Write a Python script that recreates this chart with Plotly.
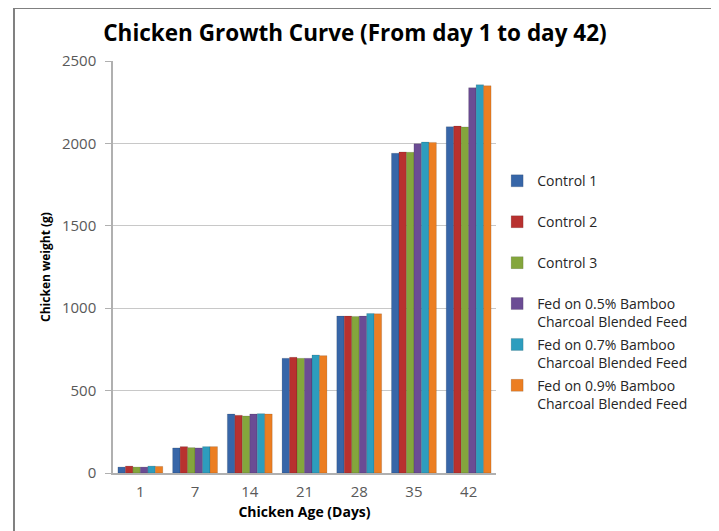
import plotly.graph_objects as go

days = ["1", "7", "14", "21", "28", "35", "42"]
series_names = [
    "Control 1",
    "Control 2",
    "Control 3",
    "Fed on 0.5% Bamboo<br>Charcoal Blended Feed",
    "Fed on 0.7% Bamboo<br>Charcoal Blended Feed",
    "Fed on 0.9% Bamboo<br>Charcoal Blended Feed",
]
control1 = [36, 152, 358, 696, 952, 1940, 2101]
control2 = [42, 160, 350, 702, 952, 1948, 2105]
control3 = [36, 154, 346, 696, 950, 1946, 2100]
fed05 = [36, 152, 358, 696, 952, 1998, 2338]
fed07 = [42, 160, 360, 716, 968, 2008, 2356]
fed09 = [40, 160, 358, 712, 966, 2006, 2350]
colors = ["#3766A8", "#B8312F", "#84A63C", "#6B4C94", "#2D9DBE", "#EC7E22"]

all_values = [control1, control2, control3, fed05, fed07, fed09]

fig = go.Figure()
for i, (name, vals, col) in enumerate(zip(series_names, all_values, colors)):
    label = name if "<br>" in name else name + "<br> "
    fig.add_trace(go.Bar(
        x=days, y=vals, name=label,
        marker=dict(color=col, line=dict(color="rgba(0,0,0,0.25)", width=0.5)),
        legendgroup=str(i),
    ))

font_fam = "Open Sans, Liberation Sans, sans-serif"
fig.update_layout(
    width=719, height=531,
    margin=dict(l=105, r=231, t=53, b=66),
    paper_bgcolor="white", plot_bgcolor="white",
    barmode="group", bargap=0.18, bargroupgap=0,
    title=dict(text="<b>Chicken Growth Curve (From day 1 to day 42)</b>",
               x=(347 - 105) / 383, xref="paper", xanchor="center",
               y=1 - 25 / 531, yanchor="middle",
               font=dict(family=font_fam, size=22.5, color="#000000")),
    font=dict(family=font_fam, size=14, color="#404040"),
    showlegend=True,
    legend=dict(x=1.003, xanchor="left", y=0.747, yanchor="top",
                valign="top", tracegroupgap=1.5,
                font=dict(family=font_fam, size=14, color="#262626"),
                itemwidth=30, bgcolor="rgba(0,0,0,0)"),
    xaxis=dict(
        title=dict(text="<b>Chicken Age (Days)</b>", standoff=7,
                   font=dict(family=font_fam, size=14, color="#000000")),
        showline=True, linecolor="#B0B0B0", linewidth=1.5,
        ticklabelstandoff=4,
        tickfont=dict(size=15, color="#595959"), ticks="",
    ),
    yaxis=dict(
        title=dict(text="<b>Chicken weight (g)</b>", standoff=9,
                   font=dict(family=font_fam, size=12, color="#000000")),
        range=[0, 2500], dtick=500,
        showgrid=True, gridcolor="#C8C8C8", gridwidth=1.2,
        showline=True, linecolor="#B0B0B0", linewidth=1.5,
        ticks="outside", ticklen=6, tickcolor="#B0B0B0",
        ticklabelstandoff=6,
        tickfont=dict(size=15, color="#595959"),
        zeroline=False,
    ),
    shapes=[
        dict(type="line", xref="paper", yref="paper", x0=-0.2585, x1=1.5666,
             y0=1.1286, y1=1.1286, line=dict(color="#808080", width=2)),
        dict(type="line", xref="paper", yref="paper", x0=-0.2585, x1=-0.2585,
             y0=1.1286, y1=-0.2, line=dict(color="#808080", width=2)),
        dict(type="line", xref="paper", yref="paper", x0=1.5666, x1=1.5666,
             y0=1.1286, y1=-0.2, line=dict(color="#808080", width=2)),
    ],
)

fig.write_html("out.html")
